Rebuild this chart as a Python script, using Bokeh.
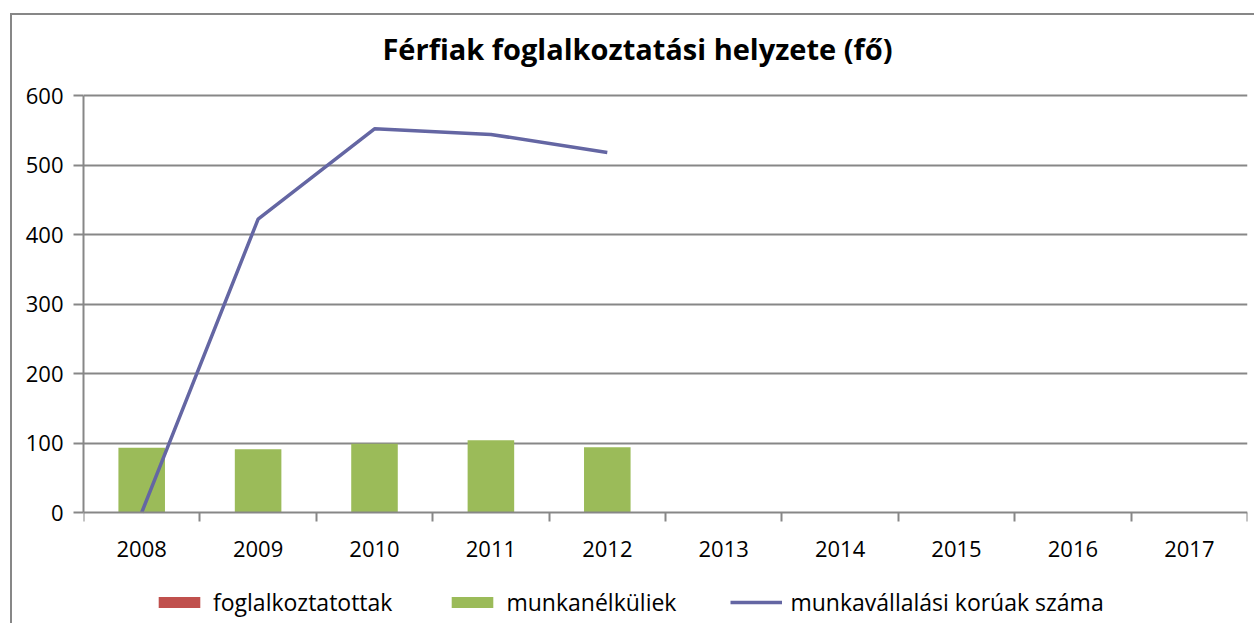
from bokeh.plotting import figure
from bokeh.models import FixedTicker, Range1d, Legend, LegendItem, ColumnDataSource, Label
from bokeh.embed import file_html
from bokeh.resources import INLINE

years = ["2008", "2009", "2010", "2011", "2012", "2013", "2014", "2015", "2016", "2017"]
foglalkoztatottak = [0, 0, 0, 0, 0, 0, 0, 0, 0, 0]
munkanelkuliek = [93, 91, 99, 104, 94, 0, 0, 0, 0, 0]
line_years = ["2008", "2009", "2010", "2011", "2012"]
munkavallalasi_koruak = [0, 422, 552, 544, 518]
y_ticks = [0, 100, 200, 300, 400, 500, 600]
title_text = "Férfiak foglalkoztatási helyzete (fő)"

xpos = [years.index(y) + 0.5 for y in years]
line_x = [years.index(y) + 0.5 for y in line_years]

GRAY = "#878787"
FONT = "Open Sans"

# ---- layout in page pixels ----
FIG_TOP, FIG_BOTTOM = 15, 625        # figure content box on the page
FIG_LEFT = 12
PLOT_L, PLOT_R = 83, 1247            # value area
PLOT_T, PLOT_B = 95, 512             # y=600 and y=0 lines
TITLE_CX, TITLE_CY = 637, 48         # title centre

FIG_W, FIG_H = 1244, FIG_BOTTOM - FIG_TOP
units_per_px = (y_ticks[-1] - y_ticks[0]) / (PLOT_B - PLOT_T)
y_top = y_ticks[-1] + (PLOT_T - FIG_TOP) * units_per_px
y_bottom = y_ticks[0] - (FIG_BOTTOM - PLOT_B) * units_per_px
cat_per_px = len(years) / (PLOT_R - PLOT_L)

src = ColumnDataSource(dict(x=xpos, foglalkoztatottak=foglalkoztatottak, munkanelkuliek=munkanelkuliek))

p = figure(width=FIG_W, height=FIG_H, x_range=Range1d(0, len(years)), y_range=Range1d(y_bottom, y_top),
           output_backend="svg", toolbar_location=None,
           min_border_left=PLOT_L - FIG_LEFT, min_border_right=FIG_LEFT + FIG_W - PLOT_R,
           min_border_top=0, min_border_bottom=0)
p.styles = {"border-left": "2px solid #878787", "border-top": "2px solid #878787",
            "margin-left": "10px", "margin-top": "13px"}
p.outline_line_color = None

bars = p.vbar_stack(["foglalkoztatottak", "munkanelkuliek"], x="x", width=0.4, source=src,
                    color=["#C0504D", "#9BBB59"], line_color=None)
ln = p.line(line_x, munkavallalasi_koruak, line_color="#6466A3", line_width=3.5)

p.add_layout(Label(x=(TITLE_CX - PLOT_L) * cat_per_px, y=y_ticks[-1] + (PLOT_T - TITLE_CY) * units_per_px,
                   text=title_text, text_align="center", text_baseline="middle",
                   text_font=FONT, text_font_size="29px", text_font_style="bold", text_color="#000000"))

# axes
p.xaxis.fixed_location = 0
p.xaxis.ticker = FixedTicker(ticks=xpos, minor_ticks=list(range(len(years) + 1)))
p.xaxis.major_label_overrides = {x: y for x, y in zip(xpos, years)}
p.xaxis.major_tick_line_color = None
p.xaxis.minor_tick_out = 9
p.xaxis.minor_tick_in = 0
p.xaxis.minor_tick_line_color = GRAY
p.xaxis.minor_tick_line_width = 2
p.xaxis.axis_line_color = GRAY
p.xaxis.axis_line_width = 2
p.xaxis.major_label_standoff = 19
p.xaxis.major_label_text_font = FONT
p.xaxis.major_label_text_font_size = "22px"
p.xaxis.major_label_text_color = "#000000"

p.yaxis.ticker = FixedTicker(ticks=y_ticks)
p.yaxis.bounds = (y_ticks[0], y_ticks[-1])
p.yaxis.minor_tick_line_color = None
p.yaxis.major_tick_out = 10
p.yaxis.major_tick_in = 0
p.yaxis.major_tick_line_color = GRAY
p.yaxis.major_tick_line_width = 2
p.yaxis.axis_line_color = GRAY
p.yaxis.axis_line_width = 2
p.yaxis.major_label_standoff = 10
p.yaxis.major_label_text_font = FONT
p.yaxis.major_label_text_font_size = "22px"
p.yaxis.major_label_text_color = "#000000"

p.xgrid.grid_line_color = None
p.ygrid.ticker = FixedTicker(ticks=y_ticks[1:])
p.ygrid.grid_line_color = GRAY
p.ygrid.grid_line_width = 2

legend = Legend(items=[LegendItem(label="foglalkoztatottak", renderers=[bars[0]]),
                       LegendItem(label="munkanélküliek", renderers=[bars[1]]),
                       LegendItem(label="munkavállalási korúak száma", renderers=[ln])],
                orientation="horizontal", location=(70, 7))
legend.border_line_color = None
legend.background_fill_alpha = 0
legend.glyph_width = 52
legend.glyph_height = 14
legend.label_standoff = 8
legend.spacing = 54
legend.margin = 0
legend.padding = 4
legend.label_text_font = FONT
legend.label_text_font_size = "23px"
legend.label_text_color = "#000000"
p.add_layout(legend, "center")

open("out.html", "w").write(file_html(p, INLINE))
